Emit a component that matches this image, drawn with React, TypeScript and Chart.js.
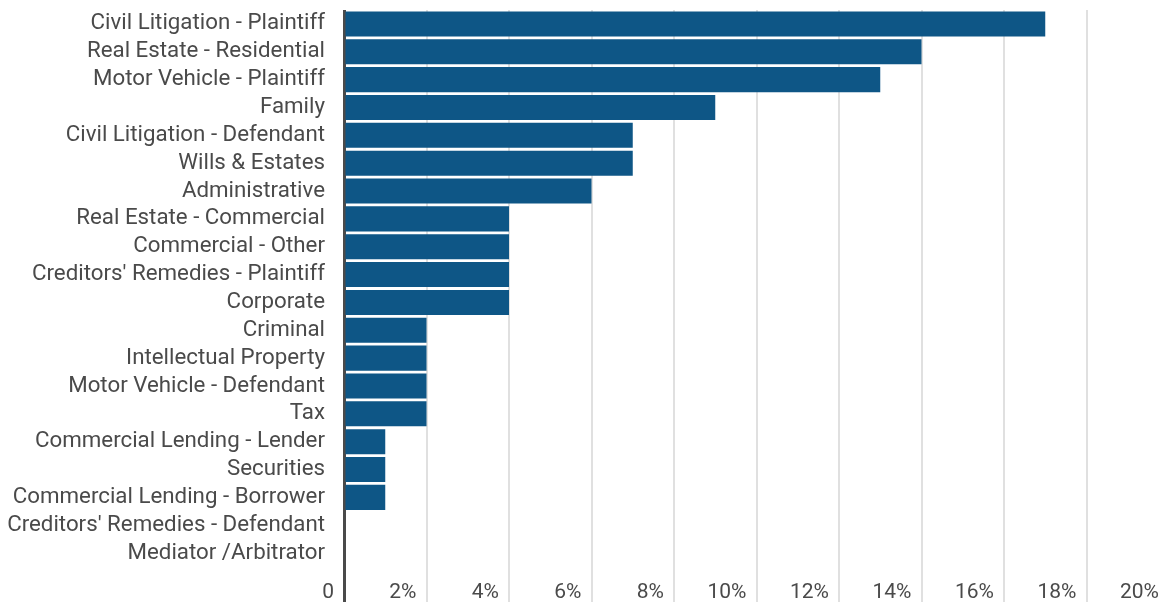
import React, { useEffect, useRef } from "react";
import { Chart, registerables } from "chart.js";

Chart.register(...registerables);

const categories = [
  "Civil Litigation - Plaintiff",
  "Real Estate - Residential",
  "Motor Vehicle - Plaintiff",
  "Family",
  "Civil Litigation - Defendant",
  "Wills & Estates",
  "Administrative",
  "Real Estate - Commercial",
  "Commercial - Other",
  "Creditors' Remedies - Plaintiff",
  "Corporate",
  "Criminal",
  "Intellectual Property",
  "Motor Vehicle - Defendant",
  "Tax",
  "Commercial Lending - Lender",
  "Securities",
  "Commercial Lending - Borrower",
  "Creditors' Remedies - Defendant",
  "Mediator /Arbitrator",
];

const shares = [17, 14, 13, 9, 7, 7, 6, 4, 4, 4, 4, 2, 2, 2, 2, 1, 1, 1, 0, 0];

const xMin = 0;
const xMax = 20;
const xStep = 2;

export default function App() {
  const ref = useRef<HTMLCanvasElement | null>(null);

  useEffect(() => {
    if (!ref.current) return;
    const chart = new Chart(ref.current, {
      type: "bar",
      data: {
        labels: categories,
        datasets: [
          {
            data: shares,
            backgroundColor: "#0e5686",
            borderWidth: 0,
            barPercentage: 1,
            categoryPercentage: 0.9,
          },
        ],
      },
      options: {
        indexAxis: "y",
        animation: false,
        responsive: false,
        layout: { padding: { top: 10, left: 0, right: 0, bottom: 0 } },
        plugins: { legend: { display: false }, tooltip: { enabled: false } },
        scales: {
          x: {
            min: xMin,
            max: xMax,
            border: { display: false },
            grid: {
              drawTicks: true,
              tickLength: 35,
              color: (ctx: any) => (ctx.tick && ctx.tick.value === 0 ? "#4a4a4a" : "#e0e0e0"),
              tickColor: (ctx: any) => (ctx.tick && ctx.tick.value === 0 ? "#4a4a4a" : "#e0e0e0"),
              lineWidth: (ctx: any) => (ctx.tick && ctx.tick.value === 0 ? 3 : 2),
            },
            afterFit: (scale: any) => {
              scale.height = 35;
            },
            ticks: {
              stepSize: xStep,
              align: "end",
              labelOffset: -10,
              padding: -22,
              maxRotation: 0,
              autoSkip: false,
              color: "#4a4a4a",
              font: { family: "Roboto", size: 21 },
              callback: (v: any) => (Number(v) === 0 ? "0" : v + "%"),
            },
          },
          y: {
            border: { display: false },
            grid: { display: false, drawTicks: false },
            afterFit: (scale: any) => {
              scale.width = 344;
              scale.paddingTop = 0;
              scale.paddingBottom = 0;
            },
            ticks: {
              padding: 19,
              color: "#4a4a4a",
              font: { family: "Roboto", size: 22.3 },
              autoSkip: false,
            },
          },
        },
      },
    });
    return () => chart.destroy();
  }, []);

  return (
    <div
      style={{
        position: "fixed",
        left: 0,
        top: 0,
        width: 1160,
        height: 602,
        overflow: "hidden",
        background: "#fff",
      }}
    >
      <canvas ref={ref} width={1169} height={602} style={{ display: "block" }} />
    </div>
  );
}
